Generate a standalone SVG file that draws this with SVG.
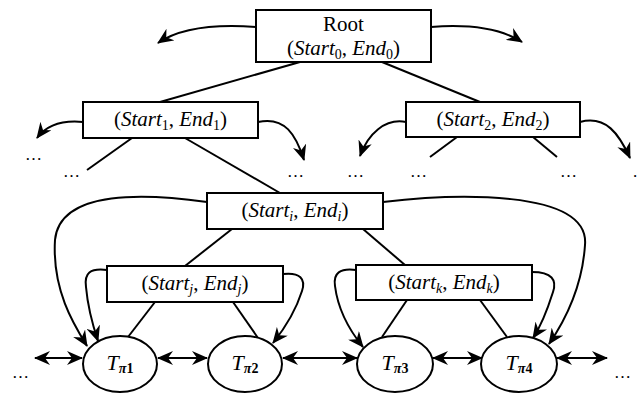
<svg xmlns="http://www.w3.org/2000/svg" width="640" height="394" viewBox="0 0 640 394">
<style>
.box{fill:#fff;stroke:#000;stroke-width:2}
.ell{fill:#fff;stroke:#000;stroke-width:2}
.ln{fill:none;stroke:#000;stroke-width:2}
.arr{fill:none;stroke:#000;stroke-width:2;marker-end:url(#ah)}
.dbl{fill:none;stroke:#000;stroke-width:2;marker-end:url(#ah);marker-start:url(#ahs)}
text{font-family:"Liberation Serif","Times New Roman",serif;fill:#000}
.lbl{font-size:21px;text-anchor:middle}
.it{font-style:italic}
.sub{font-size:14px}
.tl{font-size:22px;text-anchor:middle}
.ts{font-size:14px;font-weight:bold}
.dots{font-size:17px}
</style>
<defs>
<marker id="ah" markerUnits="userSpaceOnUse" markerWidth="16" markerHeight="14" refX="15" refY="7" orient="auto"><path d="M0,0 L16,7 L0,14 L5,7 z" fill="#000"/></marker>
<marker id="ahs" markerUnits="userSpaceOnUse" markerWidth="16" markerHeight="14" refX="15" refY="7" orient="auto-start-reverse"><path d="M0,0 L16,7 L0,14 L5,7 z" fill="#000"/></marker>
</defs>
<rect width="640" height="394" fill="#fff"/>
<g id="connectors">
<path class="ln" d="M300,62 L160,102"/>
<path class="ln" d="M382,62 L480,102"/>
<path class="arr" d="M256,27 C215,24 180,28 158,43"/>
<path class="arr" d="M431,27 C470,24 500,28 522,42"/>
<path class="arr" d="M83,122 C62,120 46,126 37,138"/>
<path class="arr" d="M258,122 C285,116 296,135 304,160"/>
<path class="arr" d="M406,122 C385,118 368,134 360,156"/>
<path class="arr" d="M580,122 C606,115 619,134 630,158"/>
<path class="ln" d="M132,138 L87,170"/>
<path class="ln" d="M185,138 L280,193"/>
<path class="ln" d="M457,137 L430,157"/>
<path class="ln" d="M533,137 L557,157"/>
<path class="ln" d="M232,229 L185,266"/>
<path class="ln" d="M363,229 L405,265"/>
<path class="arr" d="M207,202 C150,194 60,188 55,240 C52,290 74,325 87,346"/>
<path class="arr" d="M383,202 C450,194 590,188 585,245 C582,290 562,325 549,344"/>
<path class="arr" d="M107,270 C90,268 84,273 86,287 C88,310 93,326 98,341"/>
<path class="arr" d="M283,274 C300,272 306,279 302,291 C296,310 285,328 273,343"/>
<path class="arr" d="M356,270 C340,268 333,273 335,286 C338,310 350,331 363,347"/>
<path class="arr" d="M532,272 C552,272 557,280 553,292 C547,311 541,326 533,338"/>
<path class="ln" d="M155,302 L128,337"/>
<path class="ln" d="M233,302 L258,338"/>
<path class="ln" d="M407,300 L382,337"/>
<path class="ln" d="M480,300 L507,337"/>
<path class="dbl" d="M35,358 L82,358"/>
<path class="dbl" d="M158,358 L207,358"/>
<path class="dbl" d="M283,358 L357,358"/>
<path class="dbl" d="M433,358 L482,358"/>
<path class="dbl" d="M557,358 L607,358"/>
</g>
<g id="root">
<rect class="box" x="256" y="10" width="175" height="52"/>
<text class="lbl" x="343.5" y="31">Root</text>
<text class="lbl" x="343.5" y="55">(<tspan class="it">Start</tspan><tspan class="sub" dy="4">0</tspan><tspan dy="-4">, </tspan><tspan class="it">End</tspan><tspan class="sub" dy="4">0</tspan><tspan dy="-4">)</tspan></text>
</g>
<g id="n1">
<rect class="box" x="83" y="102" width="175" height="36"/>
<text class="lbl" x="170.5" y="126">(<tspan class="it">Start</tspan><tspan class="sub" dy="4">1</tspan><tspan dy="-4">, </tspan><tspan class="it">End</tspan><tspan class="sub" dy="4">1</tspan><tspan dy="-4">)</tspan></text>
</g>
<g id="n2">
<rect class="box" x="406" y="102" width="174" height="35"/>
<text class="lbl" x="493" y="126">(<tspan class="it">Start</tspan><tspan class="sub" dy="4">2</tspan><tspan dy="-4">, </tspan><tspan class="it">End</tspan><tspan class="sub" dy="4">2</tspan><tspan dy="-4">)</tspan></text>
</g>
<g id="ni">
<rect class="box" x="207" y="193" width="176" height="36"/>
<text class="lbl" x="295" y="217">(<tspan class="it">Start</tspan><tspan class="sub it" dy="4">i</tspan><tspan dy="-4">, </tspan><tspan class="it">End</tspan><tspan class="sub it" dy="4">i</tspan><tspan dy="-4">)</tspan></text>
</g>
<g id="nj">
<rect class="box" x="107" y="266" width="176" height="36"/>
<text class="lbl" x="195" y="290">(<tspan class="it">Start</tspan><tspan class="sub it" dy="4">j</tspan><tspan dy="-4">, </tspan><tspan class="it">End</tspan><tspan class="sub it" dy="4">j</tspan><tspan dy="-4">)</tspan></text>
</g>
<g id="nk">
<rect class="box" x="356" y="265" width="176" height="35"/>
<text class="lbl" x="444" y="289">(<tspan class="it">Start</tspan><tspan class="sub it" dy="4">k</tspan><tspan dy="-4">, </tspan><tspan class="it">End</tspan><tspan class="sub it" dy="4">k</tspan><tspan dy="-4">)</tspan></text>
</g>
<g id="t1">
<ellipse class="ell" cx="120" cy="364" rx="37" ry="28"/>
<text class="tl" x="120" y="370"><tspan class="it">T</tspan><tspan class="ts it" dy="3">π</tspan><tspan class="ts">1</tspan></text>
</g>
<g id="t2">
<ellipse class="ell" cx="245" cy="364" rx="37" ry="28"/>
<text class="tl" x="245" y="370"><tspan class="it">T</tspan><tspan class="ts it" dy="3">π</tspan><tspan class="ts">2</tspan></text>
</g>
<g id="t3">
<ellipse class="ell" cx="395" cy="364" rx="38" ry="28"/>
<text class="tl" x="395" y="370"><tspan class="it">T</tspan><tspan class="ts it" dy="3">π</tspan><tspan class="ts">3</tspan></text>
</g>
<g id="t4">
<ellipse class="ell" cx="519" cy="364" rx="38" ry="28"/>
<text class="tl" x="519" y="370"><tspan class="it">T</tspan><tspan class="ts it" dy="3">π</tspan><tspan class="ts">4</tspan></text>
</g>
<g id="dots">
<text class="dots" x="25" y="160">…</text>
<text class="dots" x="63" y="177">…</text>
<text class="dots" x="287" y="177">…</text>
<text class="dots" x="347" y="177">…</text>
<text class="dots" x="410" y="177">…</text>
<text class="dots" x="560" y="177">…</text>
<text class="dots" x="633" y="177">.</text>
<text class="dots" x="12" y="378">…</text>
<text class="dots" x="614" y="378">…</text>
</g>
</svg>
